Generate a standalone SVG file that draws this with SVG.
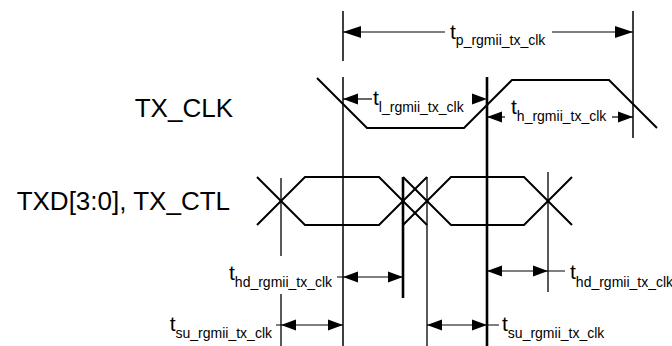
<svg xmlns="http://www.w3.org/2000/svg" xmlns:xlink="http://www.w3.org/1999/xlink" width="672" height="346" viewBox="0 0 672 346">
<style>
text{font-family:"Liberation Sans",Arial,sans-serif;fill:#000}
.lbl{font-size:26px}
.t{font-size:21px}
.sub{font-size:14px}
.wave{fill:none;stroke:#000;stroke-width:2;stroke-linejoin:miter}
.ref{stroke:#000;stroke-width:1.5;fill:none}
.thick{stroke:#000;stroke-width:2.6;fill:none}
.thin{stroke:#000;stroke-width:1.3;fill:none}
.dim{stroke:#000;stroke-width:1.2;fill:none}
.ah{fill:#000}
</style>
<defs>
<path id="ah" class="ah" d="M0,0 L-15,-5.5 L-15,5.5 Z"/>
<path id="ahb" class="ah" d="M0,0 L-18,-6 L-18,6 Z"/>
</defs>
<rect width="672" height="346" fill="#fff"/>
<g id="labels">
<text class="lbl" x="233" y="117" text-anchor="end">TX_CLK</text>
<text class="lbl" x="230" y="210" text-anchor="end">TXD[3:0], TX_CTL</text>
</g>
<g id="reference-lines">
<line class="ref" x1="343" y1="11" x2="343" y2="61"/>
<line class="ref" x1="343" y1="77" x2="343" y2="346"/>
<line class="ref" x1="633" y1="11" x2="633" y2="138"/>
<line class="thick" x1="487" y1="77" x2="487" y2="346"/>
<line class="thin" x1="281" y1="178" x2="281" y2="256"/>
<line class="thin" x1="281" y1="294" x2="281" y2="346"/>
<line class="thick" x1="403" y1="177" x2="403" y2="298"/>
<line class="thin" x1="427" y1="177" x2="427" y2="346"/>
<line class="thin" x1="548" y1="172" x2="548" y2="292"/>
</g>
<g id="tx-clk">
<polyline class="wave" points="317,78 367,128 464,128 512,80 609,80 657,128"/>
</g>
<g id="txd">
<polyline class="wave" points="257,177 305,225 379,225 427,177"/>
<polyline class="wave" points="257,225 305,177 379,177 427,225"/>
<polyline class="wave" points="403,177 451,225 524,225 572,177"/>
<polyline class="wave" points="403,225 451,177 524,177 572,225"/>
</g>
<g id="connectors">
<line class="dim" x1="343" y1="32" x2="445" y2="32"/>
<line class="dim" x1="552" y1="32" x2="633" y2="32"/>
<use xlink:href="#ahb" transform="translate(343,32) scale(-1,1)"/>
<use xlink:href="#ahb" transform="translate(633,32)"/>
<line class="dim" x1="343" y1="99" x2="372" y2="99"/>
<use xlink:href="#ah" transform="translate(343,99) scale(-1,1)"/>
<use xlink:href="#ah" transform="translate(487,99)"/>
<line class="dim" x1="487" y1="117" x2="505" y2="117"/>
<line class="dim" x1="612" y1="117" x2="633" y2="117"/>
<use xlink:href="#ah" transform="translate(487,117) scale(-1,1)"/>
<use xlink:href="#ah" transform="translate(633,117)"/>
<line class="dim" x1="337" y1="277" x2="403" y2="277"/>
<use xlink:href="#ah" transform="translate(343,277) scale(-1,1)"/>
<use xlink:href="#ah" transform="translate(403,277)"/>
<line class="dim" x1="487" y1="271" x2="565" y2="271"/>
<use xlink:href="#ah" transform="translate(487,271) scale(-1,1)"/>
<use xlink:href="#ah" transform="translate(548,271)"/>
<line class="dim" x1="276" y1="325" x2="343" y2="325"/>
<use xlink:href="#ah" transform="translate(281,325) scale(-1,1)"/>
<use xlink:href="#ah" transform="translate(343,325)"/>
<line class="dim" x1="427" y1="325" x2="499" y2="325"/>
<use xlink:href="#ah" transform="translate(427,325) scale(-1,1)"/>
<use xlink:href="#ah" transform="translate(487,325)"/>
</g>
<g id="timing-labels">
<text x="450" y="39"><tspan class="t">t</tspan><tspan class="sub" dy="6">p_rgmii_tx_clk</tspan></text>
<text x="373" y="105"><tspan class="t">t</tspan><tspan class="sub" dy="7">l_rgmii_tx_clk</tspan></text>
<text x="511" y="114"><tspan class="t">t</tspan><tspan class="sub" dy="7">h_rgmii_tx_clk</tspan></text>
<text x="229" y="280"><tspan class="t">t</tspan><tspan class="sub" dy="7">hd_rgmii_tx_clk</tspan></text>
<text x="570" y="279"><tspan class="t">t</tspan><tspan class="sub" dy="8">hd_rgmii_tx_clk</tspan></text>
<text x="272" y="331" text-anchor="end"><tspan class="t">t</tspan><tspan class="sub" dy="7">su_rgmii_tx_clk</tspan></text>
<text x="502" y="331"><tspan class="t">t</tspan><tspan class="sub" dy="7">su_rgmii_tx_clk</tspan></text>
</g>
</svg>
